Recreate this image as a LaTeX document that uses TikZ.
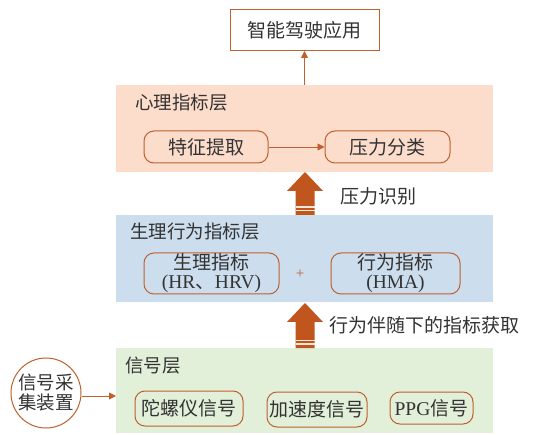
\documentclass[tikz,border=0pt]{standalone}
\usepackage{fontspec}
\setmainfont{Liberation Serif}
\newfontfamily\cjk{Noto Sans CJK SC}
\definecolor{brn}{HTML}{C0602E}
\definecolor{barrow}{HTML}{C0561E}
\definecolor{lpink}{HTML}{FCDCCB}
\definecolor{lblue}{HTML}{CCDDEE}
\definecolor{lgreen}{HTML}{E2EFD9}
\definecolor{txt}{HTML}{333333}
\tikzset{
  layer/.style={fill=#1, draw=none, inner sep=0pt},
  rbox/.style={draw=brn, line width=1pt, rounded corners=10pt, inner sep=0pt, text=txt, font=\cjk\fontsize{19}{20}\selectfont, align=center},
  ttl/.style={anchor=west, text=txt, font=\cjk\fontsize{18.5}{20}\selectfont, inner sep=0pt},
  conn/.style={draw=brn, line width=0.9pt, -{Triangle[length=7pt,width=7pt]}},
}
\usetikzlibrary{arrows.meta}
\newcommand{\bigarrow}[3]{% x center, tip y, bottom y
  \fill[barrow] (#1,#2) -- (#1+18,#2+19) -- (#1+9.5,#2+19) -- (#1+9.5,#3) -- (#1-9.5,#3) -- (#1-9.5,#2+19) -- (#1-18,#2+19) -- cycle;
  \fill[lpink!70!white] (#1-9.5,#3-8.5) rectangle (#1+9.5,#3-7.2);
  \fill[lpink!70!white] (#1-9.5,#3-4.8) rectangle (#1+9.5,#3-3.5);
}
\begin{document}
\begin{tikzpicture}[x=1pt,y=-1pt]
\useasboundingbox (0,0) rectangle (535,435);
\fill[white] (0,0) rectangle (535,435);
% layers
\node[layer=lpink, minimum width=377, minimum height=87] (psy) at (304.5,128.5) {};
\node[layer=lblue, minimum width=377, minimum height=87] (phb) at (304.5,258.5) {};
\node[layer=lgreen, minimum width=377, minimum height=85] (sig) at (304.5,390.5) {};
% titles
\node[ttl] (t1) at (135,103) {心理指标层};
\node[ttl] (t2) at (130,232) {生理行为指标层};
\node[ttl] (t3) at (125,366) {信号层};
% top box
\node[rbox, rounded corners=0pt, fill=white, minimum width=149, minimum height=41] (app) at (304.5,30.5) {智能驾驶应用};
% psych boxes
\node[rbox, minimum width=124, minimum height=32] (fe) at (206,147) {特征提取};
\node[rbox, minimum width=125, minimum height=32] (pc) at (387.5,147) {压力分类};
% phys boxes
\node[rbox, minimum width=135, minimum height=41, font=\fontsize{19.5}{19}\selectfont] (phys) at (211.5,273.5) {{\cjk\fontsize{19}{19}\selectfont 生理指标}\\(HR{\cjk 、}HRV)};
\node[rbox, minimum width=129, minimum height=41, font=\fontsize{19.5}{19}\selectfont] (beh) at (395.5,273.5) {{\cjk\fontsize{19}{19}\selectfont 行为指标}\\(HMA)};
\node[text=brn, font=\fontsize{15}{15}\selectfont, inner sep=0pt] (plus) at (300,274) {+};
% signal boxes
\node[rbox, minimum width=108, minimum height=35] (gy) at (189,408.5) {陀螺仪信号};
\node[rbox, minimum width=100, minimum height=35] (acc) at (317,409.5) {加速度信号};
\node[rbox, minimum width=83, minimum height=32, font=\fontsize{19.5}{20}\selectfont] (ppg) at (431.5,408) {PPG{\cjk\fontsize{19}{20}\selectfont 信号}};
% device circle
\node[circle, draw=brn, line width=1pt, minimum size=70, inner sep=0pt, text=txt, align=center, font=\cjk\fontsize{18.5}{20}\selectfont] (dev) at (46,393) {信号采\\集装置};
% connectors
\coordinate (appin) at (304.5,51);
\coordinate (psytop) at (304.5,85);
\draw[conn] (psytop) -- (appin);
\draw[conn] (fe) -- (pc);
\coordinate (sigL) at (116,396);
\draw[conn] (dev.east |- sigL) -- (sigL);
% big arrows
\bigarrow{305}{172}{215}
\bigarrow{305}{303}{348}
\node[ttl, font=\cjk\fontsize{19}{20}\selectfont] (l1) at (340,196) {压力识别};
\node[ttl, font=\cjk\fontsize{19}{20}\selectfont] (l2) at (329,325) {行为伴随下的指标获取};
\end{tikzpicture}
\end{document}
